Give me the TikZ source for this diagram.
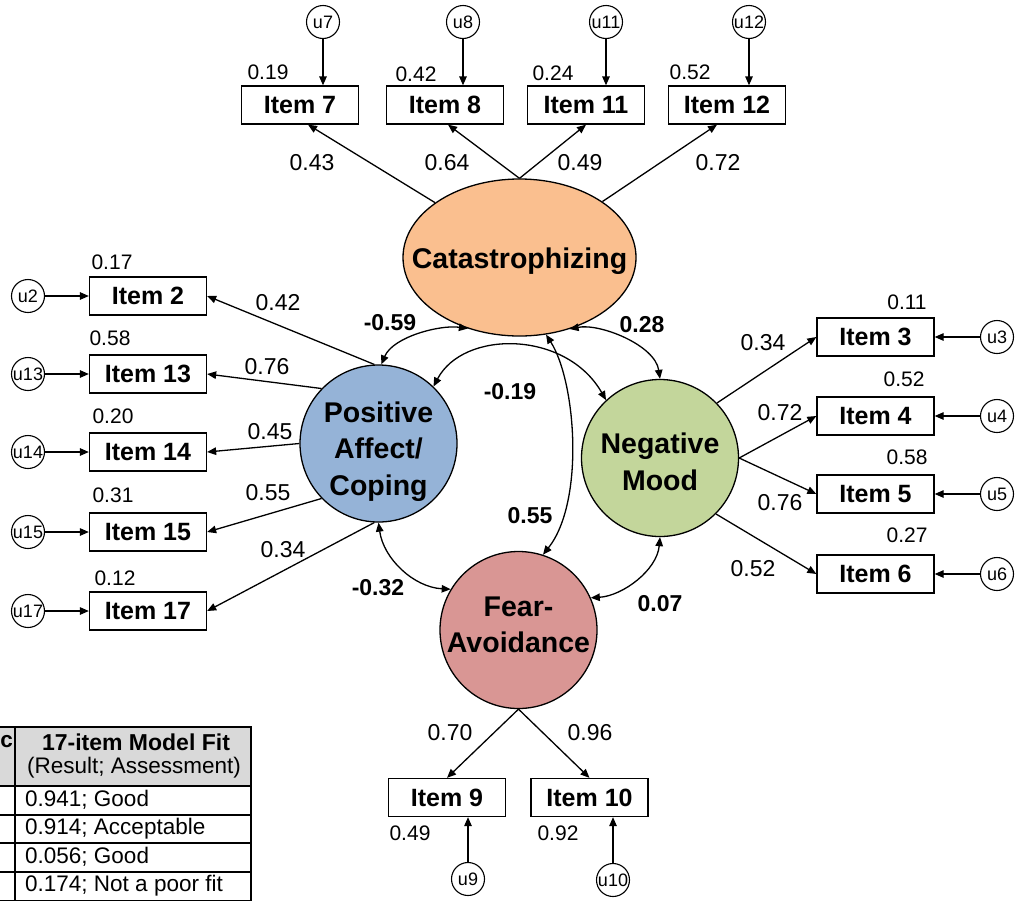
\documentclass[tikz,border=0pt]{standalone}
\usepackage{fontspec}
\setmainfont{Liberation Sans}
\usetikzlibrary{arrows.meta,calc,shapes.geometric}
\newcommand\fsz[2]{\fontsize{#1}{#2}\selectfont}
\definecolor{catc}{HTML}{FABF8F}
\definecolor{pac}{HTML}{95B3D7}
\definecolor{nmc}{HTML}{C3D69B}
\definecolor{fac}{HTML}{D99694}
\definecolor{hdrc}{HTML}{D9D9D9}
\begin{document}
\begin{tikzpicture}[x=1pt,y=-1pt,
  arr/.style={draw, line width=1.3pt, -{Triangle[length=9pt,width=7.5pt]}},
  dbl/.style={draw, line width=1.3pt, {Triangle[length=9pt,width=7.5pt]}-{Triangle[length=9pt,width=7.5pt]}},
  item/.style={draw, line width=1.3pt, minimum width=117pt, minimum height=38pt, inner sep=0pt, font=\fsz{25}{28}\bfseries},
  err/.style={draw, circle, line width=1.1pt, minimum size=33pt, inner sep=0pt, font=\fsz{18}{20}},
  lat/.style={draw, circle, line width=1.3pt, minimum size=157pt, inner sep=0pt},
  latell/.style={draw, ellipse, line width=1.3pt, minimum width=233pt, minimum height=157pt, inner sep=0pt},
  lattext/.style={inner sep=0pt, align=center, font=\fsz{28.5}{36.5}\bfseries},
  load/.style={inner sep=0pt, font=\fsz{23}{26}},
  var/.style={inner sep=0pt, font=\fsz{21}{24}},
  cor/.style={inner sep=0pt, font=\fsz{23}{26}\bfseries},
  tab/.style={inner sep=0pt, font=\fsz{22.5}{26}},
  tabline/.style={line width=1.2pt}]
\useasboundingbox (0,0) rectangle (1016,900);

% latent variables
\node[latell, fill=catc] (cat) at (519.5,257.5) {};
\node[lat, fill=pac] (pa) at (378.5,443.5) {};
\node[lat, fill=nmc] (nm) at (660,458) {};
\node[lat, fill=fac] (fa) at (518.5,630) {};
\node[lattext] (cattext) at ($(cat.center)+(0,4)$) {Catastrophizing};
\node[lattext] (patext) at ($(pa.center)+(0,8)$) {Positive\\Affect/\\Coping};
\node[lattext] (nmtext) at ($(nm.center)+(0,4)$) {Negative\\Mood};
\node[lattext] (fatext) at ($(fa.center)+(0,-5)$) {Fear-\\Avoidance};

% items top
\node[item] (i7) at (300,105) {Item 7};
\node[item] (i8) at (445,105) {Item 8};
\node[item] (i11) at (586,105) {Item 11};
\node[item] (i12) at (727,105) {Item 12};
% items left
\node[item] (i2) at (148,296) {Item 2};
\node[item] (i13) at (148,374) {Item 13};
\node[item] (i14) at (148,452) {Item 14};
\node[item] (i15) at (148,532) {Item 15};
\node[item] (i17) at (148,611) {Item 17};
% items right
\node[item] (i3) at (875.5,337) {Item 3};
\node[item] (i4) at (875.5,416) {Item 4};
\node[item] (i5) at (875.5,494) {Item 5};
\node[item] (i6) at (875.5,574) {Item 6};
% items bottom
\node[item] (i9) at (447,797.5) {Item 9};
\node[item] (i10) at (589.5,797.5) {Item 10};

% error terms
\node[err] (u7) at (323,22) {u7};
\node[err] (u8) at (463,22) {u8};
\node[err] (u11) at (606,22) {u11};
\node[err] (u12) at (749,22) {u12};
\node[err] (u2) at (28,296) {u2};
\node[err] (u13) at (28,374) {u13};
\node[err] (u14) at (28,452) {u14};
\node[err] (u15) at (28,532) {u15};
\node[err] (u17) at (28,611) {u17};
\node[err] (u3) at (997,337) {u3};
\node[err] (u4) at (997,416) {u4};
\node[err] (u5) at (997,494) {u5};
\node[err] (u6) at (997,574) {u6};
\node[err] (u9) at (468,879) {u9};
\node[err] (u10) at (613,880) {u10};

% error arrows
\draw[arr] (u7) -- (u7 |- i7.north);
\draw[arr] (u8) -- (u8 |- i8.north);
\draw[arr] (u11) -- (u11 |- i11.north);
\draw[arr] (u12) -- (u12 |- i12.north);
\foreach \u/\i in {u2/i2,u13/i13,u14/i14,u15/i15,u17/i17,u3/i3,u4/i4,u5/i5,u6/i6}
  \draw[arr] (\u) -- (\i);
\draw[arr] (u9) -- (u9 |- i9.south);
\draw[arr] (u10) -- (u10 |- i10.south);

% loadings
\draw[arr] (cat.147) -- ([xshift=8pt]i7.south);
\draw[arr] (cat.north) -- ([xshift=3pt]i8.south);
\draw[arr] (cat.north) -- (i11.south);
\draw[arr] (cat.34) -- ([xshift=-10pt]i12.south);
\draw[arr] (pa.93) -- (i2.east);
\draw[arr] (pa.136.5) -- (i13.east);
\draw[arr] (pa.180) -- (i14.east);
\draw[arr] (pa.224) -- (i15.east);
\draw[arr] (pa.267.5) -- (i17.east);
\draw[arr] (nm.44.5) -- (i3.west);
\draw[arr] (nm.east) -- (i4.west);
\draw[arr] (nm.east) -- (i5.west);
\draw[arr] (nm.315) -- (i6.west);
\draw[arr] (fa.south) -- (i9.north);
\draw[arr] (fa.south) -- (i10.north);

% correlations
\draw[dbl] (cat.234) .. controls +(-27,-4) and +(12,-28) .. (pa.88);
\draw[dbl] (cat.305) .. controls +(30,-6) and +(-5,-34) .. (nm.90);
\draw[dbl] (pa.46) .. controls +(30,-57) and +(-40,-70) .. (nm.133.5);
\draw[dbl] (cat.289.5) .. controls +(30,47) and +(42,-53) .. (fa.72);
\draw[dbl] (pa.270) .. controls +(5,36) and +(-37,-2) .. (fa.149);
\draw[dbl] (nm.270) .. controls +(-3,33) and +(32,-2) .. (fa.24);

% loading labels
\node[load] at (312,163) {0.43};
\node[load] at (447,163) {0.64};
\node[load] at (580,163) {0.49};
\node[load] at (718,163) {0.72};
\node[load] at (278,303) {0.42};
\node[load] at (267,367) {0.76};
\node[load] at (270,432) {0.45};
\node[load] at (268,493) {0.55};
\node[load] at (283,550) {0.34};
\node[load] at (763,343) {0.34};
\node[load] at (780,413) {0.72};
\node[load] at (780,503) {0.76};
\node[load] at (753,569) {0.52};
\node[load] at (450,733) {0.70};
\node[load] at (590,733) {0.96};

% variance labels
\node[var] at (268,72) {0.19};
\node[var] at (416,74) {0.42};
\node[var] at (553,73) {0.24};
\node[var] at (690,72) {0.52};
\node[var] at (112,262) {0.17};
\node[var] at (110,338) {0.58};
\node[var] at (113,416) {0.20};
\node[var] at (113,495) {0.31};
\node[var] at (115,578) {0.12};
\node[var] at (907,302) {0.11};
\node[var] at (904,379) {0.52};
\node[var] at (907,457) {0.58};
\node[var] at (907,535) {0.27};
\node[var] at (410,833) {0.49};
\node[var] at (558,833) {0.92};

% correlation labels
\node[cor] at (390,323) {-0.59};
\node[cor] at (642,325) {0.28};
\node[cor] at (510,392) {-0.19};
\node[cor] at (530,516) {0.55};
\node[cor] at (378,588) {-0.32};
\node[cor] at (660,604) {0.07};

% fit table
\fill[hdrc] (-200,727) rectangle (251,786);
\draw[tabline] (-200,727) rectangle (251,901);
\draw[tabline] (15,727) -- (15,901);
\foreach \yy in {786,815,843,872} \draw[tabline] (-200,\yy) -- (251,\yy);
\node[tab, anchor=east, font=\fsz{22.5}{26}\bfseries] at (13,742) {c};
\node[tab, font=\fsz{23}{26}\bfseries] at (136,742) {17-item Model Fit};
\node[tab] at (134,768) {(Result; Assessment)};
\node[tab, anchor=west] at (25,800) {0.941; Good};
\node[tab, anchor=west] at (25,829) {0.914; Acceptable};
\node[tab, anchor=west] at (25,857) {0.056; Good};
\node[tab, anchor=west] at (25,886) {0.174; Not a poor fit};
\end{tikzpicture}
\end{document}
